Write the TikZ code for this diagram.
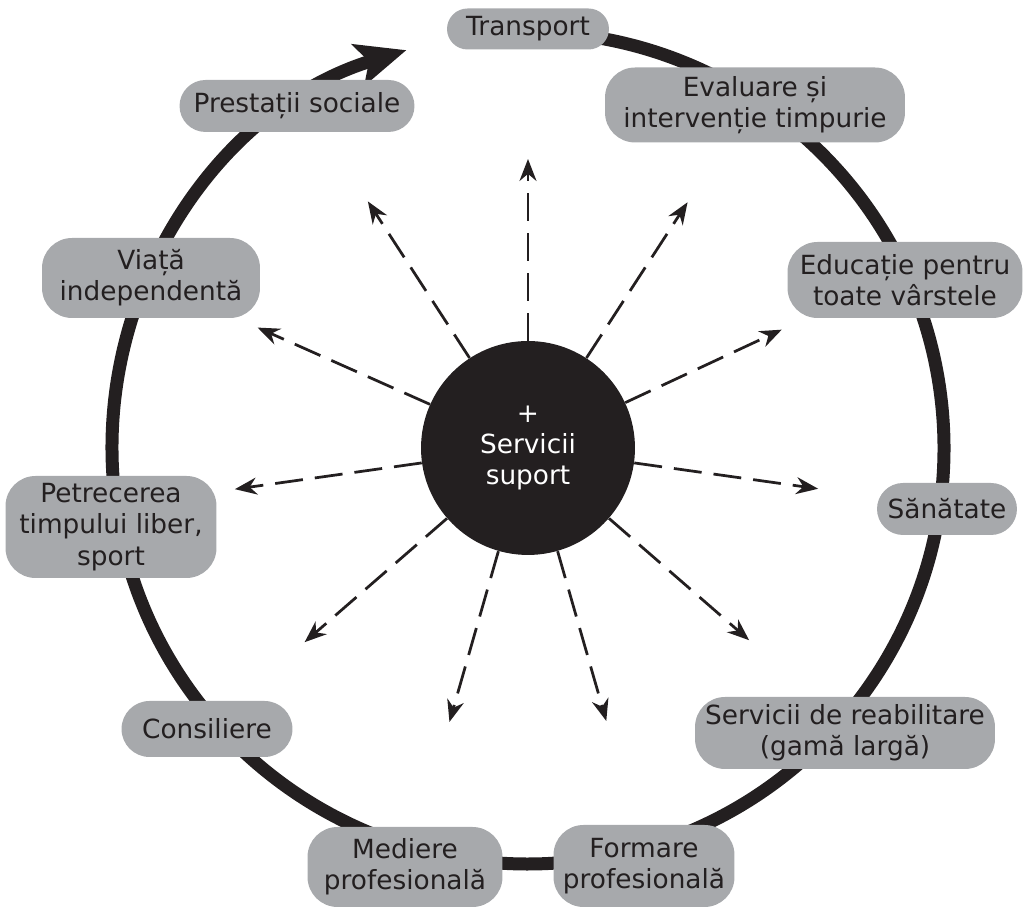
\documentclass[tikz,border=0pt]{standalone}
\usepackage{fontspec}
\setmainfont{DejaVu Sans}
\usetikzlibrary{arrows.meta}
\definecolor{ink}{HTML}{231F20}
\definecolor{boxgray}{HTML}{A7A9AC}
\newcommand{\boxfont}{\fontsize{15}{17.8}\selectfont}

\begin{document}
\begin{tikzpicture}[x=0.02cm, y=0.02cm,
    box/.style={fill=boxgray, text=ink, rounded corners=0.6cm, align=center, inner sep=0pt, font=\boxfont},
    ring/.style={draw=ink, line width=0.26cm},
    spoke/.style={draw=ink, line width=0.055cm, dash pattern=on 0.56cm off 0.24cm, -{Stealth[length=0.44cm, width=0.34cm]}}]
        \useasboundingbox (0,0) rectangle (1029,908);
        \coordinate (c) at (528,460);

        % Draw the outer ring with its arrow
        \draw[ring, -{Stealth[length=1cm, width=0.85cm, inset=0.22cm]}] (c) ++(95:416) arc[start angle=95, end angle=-253, radius=416];

        % Draw the hub
        \node[circle, fill=ink, text=white, minimum size=4.28cm, inner sep=0pt, align=center, font=\boxfont] (hub) at (c) {+\\Servicii\\suport};

        % Draw the dashed arrows
        \foreach \a/\l [count=\i] in {90/289, 57/293, 123/294, 25/280, 156/296, 352/293, 188/296, 319/293, 221/296, 254/285, 286/284} {
            \path (c) ++(\a:\l) coordinate (t\i);
            \draw[spoke] (hub.\a) -- (t\i);
        }

        % Add the services
        \node[box, minimum width=3.24cm, minimum height=0.82cm, rounded corners=0.41cm] (transport) at (528,879) {Transport};
        \node[box, minimum width=6cm, minimum height=1.5cm] (eval) at (755,803) {Evaluare și\\intervenție timpurie};
        \node[box, minimum width=4.7cm, minimum height=1.52cm] (edu) at (905,628) {Educație pentru\\toate vârstele};
        \node[box, minimum width=2.8cm, minimum height=1.04cm, rounded corners=0.52cm] (sanatate) at (947,399) {Sănătate};
        \node[box, minimum width=6cm, minimum height=1.44cm] (reab) at (845,175) {Servicii de reabilitare\\(gamă largă)};
        \node[box, minimum width=3.62cm, minimum height=1.64cm] (formare) at (644,42) {Formare\\profesională};
        \node[box, minimum width=3.9cm, minimum height=1.6cm] (mediere) at (405,41) {Mediere\\profesională};
        \node[box, minimum width=3.42cm, minimum height=1.12cm, rounded corners=0.56cm] (consil) at (207,179) {Consiliere};
        \node[box, minimum width=4.22cm, minimum height=2.04cm] (timp) at (111,381) {Petrecerea\\timpului liber,\\sport};
        \node[box, minimum width=4.36cm, minimum height=1.6cm] (viata) at (151,630) {Viață\\independentă};
        \node[box, minimum width=4.7cm, minimum height=1.04cm, rounded corners=0.52cm] (prest) at (297,802) {Prestații sociale};
    \end{tikzpicture}
\end{document}
